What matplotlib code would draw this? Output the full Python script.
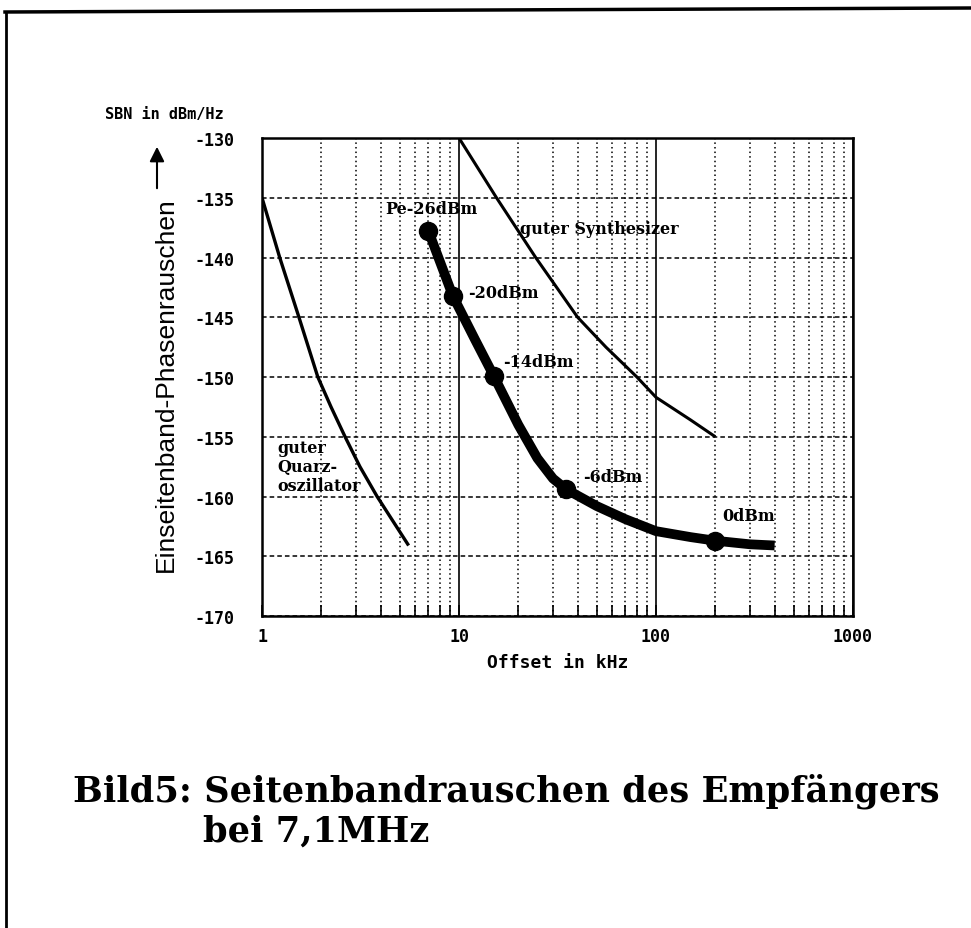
import numpy as np
import matplotlib.pyplot as plt
from matplotlib.lines import Line2D
from matplotlib.ticker import LogLocator, FixedLocator, NullFormatter

# receiver sideband noise (thick curve), offset in kHz / dBm/Hz
rx_offset = [7, 9.3, 12, 15, 20, 25, 30, 35, 50, 70, 100, 150, 200, 300, 400]
rx_noise = [-137.8, -143.2, -146.8, -149.9, -154.0, -156.8, -158.5, -159.4,
            -160.8, -161.9, -162.9, -163.4, -163.7, -164.0, -164.1]

# marked points with input level labels
pt_offset = [7, 9.3, 15, 35, 200]
pt_noise = [-137.8, -143.2, -149.9, -159.4, -163.7]
pt_labels = ["Pe-26dBm", "-20dBm", "-14dBm", "-6dBm", "0dBm"]
lbl_x = [4.2, 11.1, 16.7, 42.6, 216]
lbl_y = [-135.9, -142.9, -148.7, -158.3, -161.6]

# reference oscillators
quarz_offset = [1, 1.23, 1.54, 1.92, 2.24, 2.64, 3.14, 3.84, 5.55]
quarz_noise = [-135, -140, -145, -150, -152.5, -155, -157.5, -160, -164.1]
synth_offset = [10, 15.5, 24.5, 40, 55.7, 80, 100, 150, 200]
synth_noise = [-130, -135, -140, -145, -147.5, -150, -151.7, -153.6, -155]

y_ticks = [-130, -135, -140, -145, -150, -155, -160, -165, -170]
x_ticks = [1, 10, 100, 1000]

W, H = 971, 929
fig = plt.figure(figsize=(W / 100, H / 100), dpi=100)
ax = fig.add_axes([262 / W, 1 - 617 / H, 591 / W, 478 / H])

mono = dict(family="DejaVu Sans Mono", weight="bold")
serif = dict(family="DejaVu Serif", weight="bold")

ax.set_xscale("log")
ax.set_xlim(1, 1000)
ax.set_ylim(-170, -130)

# grid: solid decades, dotted minor verticals, dashed horizontals
ax.xaxis.set_major_locator(FixedLocator(x_ticks))
ax.xaxis.set_minor_locator(LogLocator(base=10, subs=np.arange(2, 10)))
ax.xaxis.set_minor_formatter(NullFormatter())
ax.yaxis.set_major_locator(FixedLocator(y_ticks))
ax.xaxis.grid(True, which="major", color="k", lw=1.2, ls="-")
ax.xaxis.grid(True, which="minor", color="k", lw=1.1, ls=(0, (1, 2)))
ax.yaxis.grid(True, which="major", color="k", lw=1.1, ls=(0, (3, 2)))
ax.set_axisbelow(True)

ax.set_xticklabels([str(v) for v in x_ticks], fontsize=12, **mono)
ax.set_yticklabels([str(v) for v in y_ticks], fontsize=12, **mono)
ax.tick_params(axis="x", which="both", direction="in", length=8, width=1.2, pad=8)
ax.tick_params(axis="y", which="both", direction="in", length=0, pad=20)
for sp in ax.spines.values():
    sp.set_linewidth(1.8)

# curves
ax.plot(quarz_offset, quarz_noise, color="k", lw=2.4, solid_capstyle="butt")
ax.plot(synth_offset, synth_noise, color="k", lw=2.2, solid_capstyle="butt")
ax.plot(rx_offset, rx_noise, color="k", lw=7, solid_capstyle="butt",
        solid_joinstyle="round")
ax.plot(pt_offset, pt_noise, "o", color="k", ms=13)

for x, y, s in zip(lbl_x, lbl_y, pt_labels):
    ax.text(x, y, s, fontsize=11.5, va="center", ha="left", **serif)
ax.text(20.4, -137.6, "guter Synthesizer", fontsize=11.5, va="center", ha="left", **serif)
ax.text(1.19, -157.5, "guter\nQuarz-\noszillator", fontsize=11.5, va="center",
        ha="left", linespacing=1.15, **serif)

# axis titles
fig.text(105 / W, 1 - 114 / H, "SBN in dBm/Hz", fontsize=11, va="center", ha="left", **mono)
fig.text(558 / W, 1 - 663 / H, "Offset in kHz", fontsize=13, va="center", ha="center", **mono)
fig.text(166 / W, 1 - 385 / H, "Einseitenband-Phasenrauschen", fontsize=19,
         family="Liberation Sans", rotation=90, va="center", ha="center")
fig.add_artist(plt.Annotation("", xy=(157 / W, 1 - 145 / H), xytext=(157 / W, 1 - 192 / H),
                              xycoords="figure fraction", textcoords="figure fraction",
                              arrowprops=dict(arrowstyle="-|>", color="k", lw=1.5,
                                              mutation_scale=22)))

# caption, sized so the first line spans the same width as in the scan
cap1 = fig.text(73 / W, 1 - 802 / H, "Bild5: Seitenbandrauschen des Empfängers",
                fontsize=24, va="baseline", ha="left", **serif)
fig.canvas.draw()
w = cap1.get_window_extent().width
cap_size = 24 * 867 / w
cap1.set_fontsize(cap_size)
fig.text(203 / W, 1 - 842 / H, "bei 7,1MHz", fontsize=cap_size, va="baseline",
         ha="left", **serif)

# page frame (top and left edges)
fig.add_artist(Line2D([5 / W, 1], [1 - 13 / H, 1 - 9 / H], color="k", lw=2.5))
fig.add_artist(Line2D([6 / W, 6 / W], [0, 1 - 13 / H], color="k", lw=2))

fig.savefig("out.png", dpi=100)
